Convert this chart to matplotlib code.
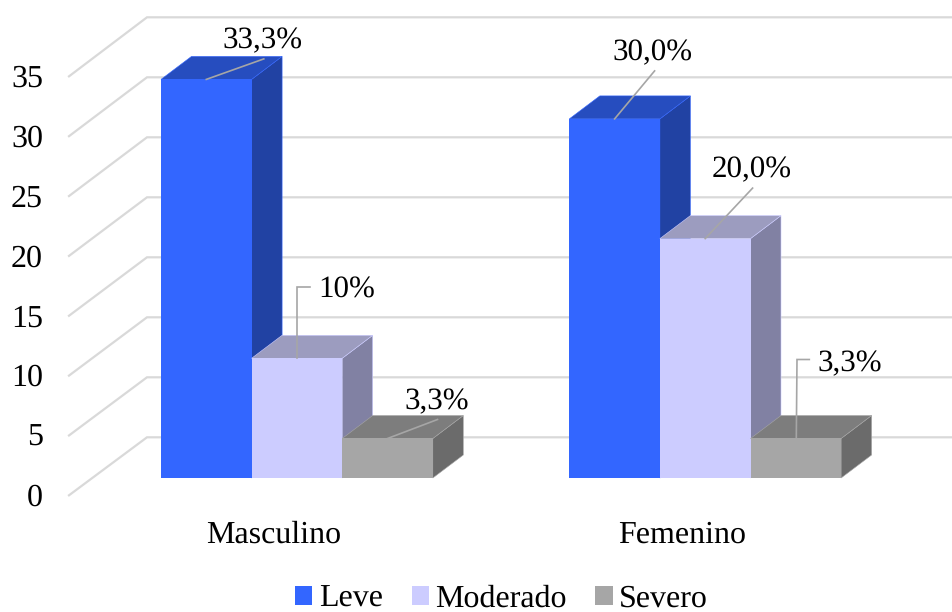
import matplotlib
matplotlib.use("Agg")
import matplotlib.pyplot as plt
from matplotlib.patches import Patch

plt.rcParams["font.family"] = ["Liberation Serif", "DejaVu Serif"]
plt.rcParams["text.hinting"] = "no_hinting"

categorias = ["Masculino", "Femenino"]
series = ["Leve", "Moderado", "Severo"]
leve = [33.3, 30.0]
moderado = [10.0, 20.0]
severo = [3.3, 3.3]
etiquetas = [["33,3%", "30,0%"], ["10%", "20,0%"], ["3,3%", "3,3%"]]
marcas_y = [0, 5, 10, 15, 20, 25, 30, 35]

colores = ["#3366FF", "#CCCCFF", "#A6A6A6"]
colores_techo = ["#264DBF", "#9C9CBF", "#7D7D7D"]
colores_lado = ["#2142A3", "#8181A3", "#6B6B6B"]
color_rejilla = "#D9D9D9"
color_guia = "#A6A6A6"

# escala en pixeles de la imagen
PX_X = 408.3  # pixeles entre grupos
PX_Y = 11.97  # pixeles por unidad
X0 = 297.0  # centro del primer grupo
Y0 = 478.0  # base de las barras
ANCHO = 90.6 / PX_X
FONDO_X = 30.5 / PX_X
FONDO_Y = 23.0 / PX_Y


def dx(px):
    return px / PX_X


def dy(px):
    return px / PX_Y


# desplazamientos de guia y texto respecto al centro del techo de cada barra
guias = [
    [[(0, 0), (57.5, 20.5)], [(0, 0), (40, 48)]],
    [[(0.5, 0), (0.5, 71), (13, 71)], [(0, 0), (47.4, 50.5)]],
    [[(0, 0), (50, 19)], [(0.5, 0), (1.2, 79), (13.5, 79)]],
]
pos_texto = [
    [(56.5, 30.8), (38, 58.3)],
    [(49.5, 61), (46.4, 61)],
    [(49.5, 29.6), (54.5, 67.3)],
]

fig = plt.figure(figsize=(9.52, 6.12), dpi=100)
ax = fig.add_axes([0, 0, 1, 1])
ax.set_xlim(-X0 / PX_X, (952 - X0) / PX_X)
ax.set_ylim(-(612 - Y0) / PX_Y, Y0 / PX_Y)
ax.axis("off")

# paredes: rejilla en perspectiva
frente_x = dx(69 - X0)
fondo_x = dx(147 - X0)
fin_x = dx(952 - X0)
frente_y = dy(Y0 - 495.3)
fondo_y = dy(Y0 - 437.3)
for v in marcas_y:
    ax.plot([frente_x, fondo_x, fin_x], [frente_y + v, fondo_y + v * 60 / 5 / PX_Y, fondo_y + v * 60 / 5 / PX_Y],
            color=color_rejilla, lw=1.6, zorder=1, solid_joinstyle="miter")
    ax.text(dx(43 - X0), frente_y + v - dy(10.5), str(v), ha="right", va="baseline",
            fontsize=23, color="black")

# barras
valores = [leve, moderado, severo]
for g in range(len(categorias)):
    for s in range(len(series)):
        v = valores[s][g]
        x0 = g + dx(161 - X0) + s * ANCHO
        x1 = x0 + ANCHO
        ax.fill([x1, x1 + FONDO_X, x1 + FONDO_X, x1], [0, FONDO_Y, v + FONDO_Y, v],
                facecolor=colores_lado[s], edgecolor=colores[s], lw=0.4, zorder=3 + s)
        ax.fill([x0, x1, x1 + FONDO_X, x0 + FONDO_X], [v, v, v + FONDO_Y, v + FONDO_Y],
                facecolor=colores_techo[s], edgecolor=colores[s], lw=0.4, zorder=3 + s)
        ax.bar(x0, v, width=ANCHO, align="edge", color=colores[s], zorder=3 + s)

# guias y etiquetas
for g in range(len(categorias)):
    for s in range(len(series)):
        v = valores[s][g]
        xc = g + dx(161 - X0) + (s + 0.5) * ANCHO
        ax.plot([xc + dx(p[0]) for p in guias[s][g]], [v + dy(p[1]) for p in guias[s][g]],
                color=color_guia, lw=1.2, zorder=8, solid_joinstyle="miter")
        tx, ty = pos_texto[s][g]
        ax.text(xc + dx(tx), v + dy(ty), etiquetas[s][g], ha="center", va="baseline",
                fontsize=22.3, color="black", zorder=9)

# categorias
for g, nombre in enumerate(categorias):
    ax.text(g + dx(-23), dy(Y0 - 542.7), nombre, ha="center", va="baseline", fontsize=23, color="black")

manejadores = [Patch(facecolor=c, edgecolor="none") for c in colores]
ax.legend(manejadores, series, loc="lower left", bbox_to_anchor=(292 / 952, -5 / 612), ncol=3, frameon=False,
          fontsize=23, borderpad=0, borderaxespad=0.1, handlelength=0.54, handleheight=0.54,
          handletextpad=0.2, columnspacing=0.9, labelcolor="black")

fig.savefig("out.png", dpi=100)
